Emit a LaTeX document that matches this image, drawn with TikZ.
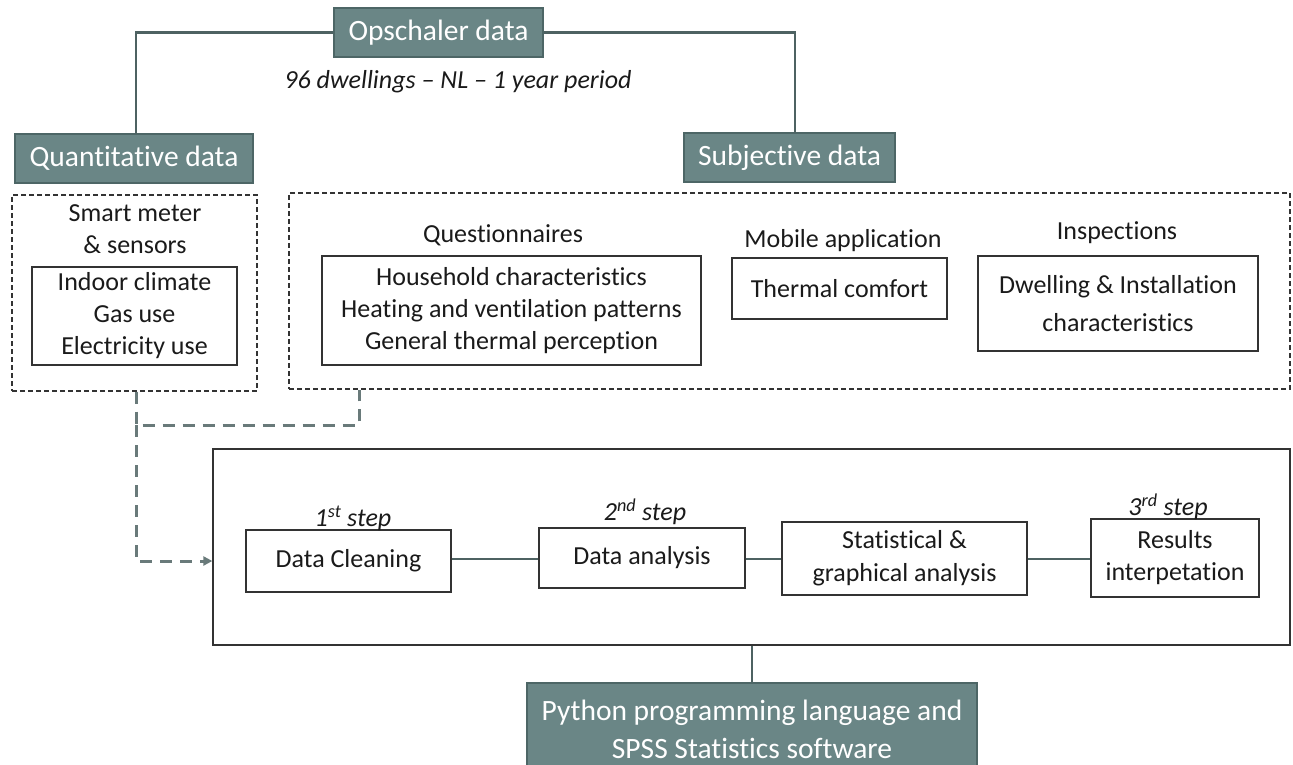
\documentclass[tikz,border=0pt]{standalone}
\usepackage{fontspec}
\setmainfont{Carlito}[Ligatures=NoCommon]
\usetikzlibrary{arrows.meta}
\definecolor{hdrfill}{HTML}{6A8686}
\definecolor{hdrline}{HTML}{4D6666}
\definecolor{conn}{HTML}{4E6262}
\definecolor{boxline}{HTML}{333333}
\definecolor{txt}{HTML}{1A1A1A}
\tikzset{
  hdr/.style={draw=hdrline, line width=2pt, fill=hdrfill, text=white, inner sep=0pt, align=center,
    font=\fontsize{29.5}{38}\selectfont},
  bodybox/.style={draw=boxline, line width=1.3pt, inner sep=0pt, align=center, text=txt,
    font=\fontsize{26}{32}\selectfont},
  lbl/.style={inner sep=0pt, align=center, text=txt, font=\fontsize{26}{32}\selectfont},
  steplbl/.style={inner sep=0pt, text=txt, font=\fontsize{26}{32}\selectfont\itshape},
  dashbox/.style={draw=boxline, line width=1.2pt, dash pattern=on 5pt off 3pt, inner sep=0pt},
  hline/.style={draw=conn, line width=2.5pt},
  thickdash/.style={draw=conn!85, line width=3pt, dash pattern=on 12pt off 8pt},
}
\begin{document}
\begin{tikzpicture}[x=1pt, y=-1pt]
\useasboundingbox (0,0) rectangle (1293,764);

% header boxes
\node[hdr, minimum width=209pt, minimum height=49pt] (ops) at (438.5,32.5) {Opschaler data};
\node[steplbl] (period) at (458,82) {96 dwellings -- NL -- 1 year period};
\node[hdr, minimum width=238pt, minimum height=49pt] (quant) at (134,158.5) {Quantitative data};
\node[hdr, minimum width=211pt, minimum height=49pt] (subj) at (789.5,157.5) {Subjective data};

\draw[hline] (ops.west) -- (136,32.5) -- (136,134);
\draw[hline] (ops.east) -- (795,32.5) -- (795,133);

% dashed group boxes
\node[dashbox, minimum width=245pt, minimum height=196pt] (qgroup) at (134.5,293) {};
\node[dashbox, minimum width=1001pt, minimum height=196pt] (sgroup) at (789.5,291) {};

% quantitative content
\node[lbl] (smart) at (135,229) {Smart meter\\\& sensors};
\node[bodybox, minimum width=205pt, minimum height=98pt] (sensors) at (134.5,316)
  {Indoor climate\\Gas use\\Electricity use};

% subjective content
\node[lbl] (qlabel) at (503,235) {Questionnaires};
\node[bodybox, minimum width=379pt, minimum height=109pt] (quest) at (511.5,310.5)
  {Household characteristics\\Heating and ventilation patterns\\General thermal perception};
\node[lbl] (mlabel) at (843,241) {Mobile application};
\node[bodybox, minimum width=215pt, minimum height=61pt] (mobile) at (839.5,288.5) {Thermal comfort};
\node[lbl] (ilabel) at (1117,233) {Inspections};
\node[bodybox, minimum width=280pt, minimum height=95pt, font=\fontsize{26}{38}\selectfont] (insp) at (1118,303.5)
  {Dwelling \& Installation\\characteristics};

% analysis frame
\node[draw=boxline, line width=1.3pt, minimum width=1077pt, minimum height=196pt, inner sep=0pt] (frame) at (751.5,547) {};

\node[bodybox, minimum width=205pt, minimum height=62pt] (clean) at (348.5,561) {Data Cleaning};
\node[steplbl] (s1) at (353,518) {1\textsuperscript{st} step};
\node[bodybox, minimum width=206pt, minimum height=60pt] (anal) at (642,558) {Data analysis};
\node[steplbl] (s2) at (645,512) {2\textsuperscript{nd} step};
\node[bodybox, minimum width=245pt, minimum height=73pt, font=\fontsize{26}{33}\selectfont] (stat) at (904.5,558.5)
  {Statistical \&\\graphical analysis};
\node[bodybox, minimum width=168pt, minimum height=78pt] (res) at (1175,558) {Results\\interpetation};
\node[steplbl] (s3) at (1168,507) {3\textsuperscript{rd} step};

\draw[hline, line width=2pt] (clean.east |- 0,559) -- (anal.west |- 0,559);
\draw[hline, line width=2pt] (anal.east |- 0,559) -- (stat.west |- 0,559);
\draw[hline, line width=2pt] (stat.east |- 0,559) -- (res.west |- 0,559);

% thick dashed connectors
\coordinate (j) at (136,425);
\draw[thickdash] (qgroup.south -| 136,0) -- (j) -- (359,425) -- (sgroup.south -| 359,0);
\draw[thickdash, -{Triangle[length=9pt, width=9pt]}] (j) -- (136,561) -- (frame.west |- 0,561);

% software box
\node[hdr, minimum width=450pt, minimum height=92pt] (soft) at (752,729)
  {Python programming language and\\SPSS Statistics software};
\draw[hline, line width=2pt] (frame.south -| 752,0) -- (soft.north -| 752,0);
\end{tikzpicture}
\end{document}
